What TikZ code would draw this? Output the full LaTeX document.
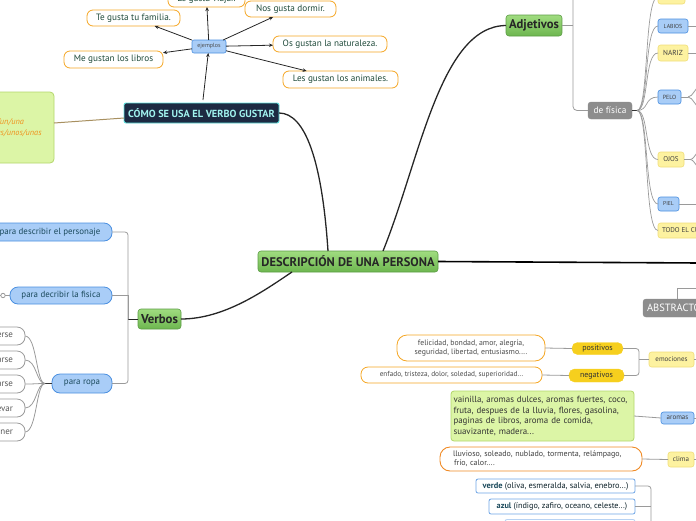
\documentclass[tikz,border=0pt]{standalone}
\usepackage{fontspec}
\setmainfont{PT Sans}
\usetikzlibrary{arrows.meta,calc}
\definecolor{cOr}{HTML}{F5A623}
\definecolor{cOr2}{HTML}{F08A24}
\definecolor{cTx}{HTML}{1F4A3A}
\definecolor{cBlF}{HTML}{A9CDF7}
\definecolor{cBlD}{HTML}{4A8FE0}
\definecolor{cBlT}{HTML}{1B4A5C}
\definecolor{cGrF}{HTML}{DCF5A6}
\definecolor{cGrD}{HTML}{B3D66B}
\definecolor{cGold}{HTML}{F6CF1E}
\definecolor{cLY}{HTML}{FDF2A0}
\definecolor{cLYD}{HTML}{F0DE7A}
\definecolor{cGray}{HTML}{8D8D8D}
\definecolor{cNavy}{HTML}{1D2A42}
\definecolor{cCyan}{HTML}{5FE3E0}
\definecolor{cCyanT}{HTML}{A0F2EE}
\definecolor{cLine}{HTML}{9A9A9A}
\definecolor{cTan}{HTML}{A89060}
\definecolor{cItal}{HTML}{F0921E}
\definecolor{cTitTop}{HTML}{A0DC80}
\definecolor{cTitBot}{HTML}{6DB64F}
\definecolor{cTitD}{HTML}{5C9C45}
\newcommand\fz[2]{\fontsize{#1}{#2}\selectfont}
\begin{document}
\begin{tikzpicture}[x=1pt,y=-1pt,
  every node/.style={inner sep=0pt, outer sep=0pt},
  obox/.style={draw=cOr, fill=white, line width=0.8pt, rounded corners=6pt, text=cTx, font=\fz{9.2}{10}},
  bpill/.style={draw=cBlD, fill=cBlF, line width=0.8pt, rounded corners=8pt, text=cBlT, font=\fz{8.9}{10}},
  wpill/.style={draw=cLine, fill=white, line width=0.8pt, rounded corners=8pt, text=black!65, font=\fz{9}{10}, inner xsep=12pt, minimum height=18pt},
  title/.style={draw=cTitD, top color=cTitTop, bottom color=cTitBot, line width=0.6pt, rounded corners=3pt, text=black!85, font=\bfseries\fz{12.5}{14}},
  ybox/.style={draw=cLYD, fill=cLY, line width=0.6pt, rounded corners=2.5pt, text=black!75},
  bbox/.style={draw=cBlD, fill=cBlF, line width=0.6pt, rounded corners=2.5pt, text=black!75},
  gpill/.style={draw=cGold, fill=cGold, rounded corners=5.5pt, text=black!80, font=\fz{8}{9}},
  gline/.style={draw=cLine, line width=0.8pt},
  dline/.style={draw=black!85, line width=1.3pt},
  arr/.style={draw=black!85, line width=0.8pt, -{Stealth[length=4pt,width=3.5pt]}}
]
\useasboundingbox (0,0) rectangle (696,520);
\clip (0,0) rectangle (696,520);

% ---------- root and main branches ----------
\node[title, minimum width=180pt, minimum height=21pt] (root) at (348,261.5) {DESCRIPCIÓN DE UNA PERSONA};
\node[title, font=\bfseries\fz{12.6}{14}, minimum width=56pt, minimum height=21pt] (adj) at (534,25.5) {Adjetivos};
\node[title, font=\bfseries\fz{12.8}{14}, minimum width=43pt, minimum height=20pt] (verbos) at (159.5,319) {Verbos};
\node[draw=cCyan, fill=cNavy, line width=0.9pt, rounded corners=2pt, text=cCyanT, font=\bfseries\fz{10.3}{12}, minimum width=155pt, minimum height=20pt] (como) at (201.5,113) {CÓMO SE USA EL VERBO GUSTAR};
\node[draw=black!45, fill=cGray, rounded corners=3pt, text=white, font=\fz{10.5}{12}, minimum height=18pt, inner xsep=4pt, anchor=west] (abs) at (643,308) {ABSTRACTO};
\coordinate (rootR) at (700,263);
\coordinate (absUp) at (700,288);

\draw[dline] ($(root.north)+(35,0)$) .. controls (420,160) and (440,26) .. (adj.west);
\draw[dline] ($(root.north)+(-20,0)$) .. controls (322,160) and (305,113) .. (como.east);
\draw[dline] ($(root.south)+(-56,0)$) .. controls (265,290) and (225,319) .. (verbos.east);
\draw[black, line width=1.6pt] (root.east) -- (rootR);
\draw[gline] ($(abs.north west)+(34,0)$) |- (absUp);

% ---------- gustar ----------
\node[draw=cGrD, fill=cGrF, line width=0.8pt, rounded corners=4pt, minimum width=80pt, minimum height=71pt, text width=64pt, align=left, text=cItal, font=\itshape\fz{8.3}{11}] (art) at (14,127.5) {el/la/un/una\\los/las/unos/unas};
\draw[cTan, line width=1pt] ($(art.east)+(0,-4.5)$) -- ($(como.west)+(0,5)$);

\node[draw=cBlD, fill=cBlF, line width=0.6pt, rounded corners=2pt, text=black!70, font=\fz{6}{7}, minimum width=34pt, minimum height=13pt] (ej) at (209,46.5) {ejemplos};
\node[obox, minimum width=77pt, minimum height=16pt] (le) at (206.5,-1) {Le gusta viajar.};
\node[obox, minimum width=91pt, minimum height=16pt] (nos) at (290.5,9) {Nos gusta dormir.};
\node[obox, minimum width=93pt, minimum height=16pt] (te) at (133.5,18) {Te gusta tu familia.};
\node[obox, minimum width=114pt, minimum height=16pt] (os) at (330,44) {Os gustan la naturaleza.};
\node[obox, minimum width=99pt, minimum height=17pt] (me) at (113.5,59.5) {Me gustan los libros};
\node[obox, minimum width=115pt, minimum height=17pt] (les) at (340.5,79.5) {Les gustan los animales.};
\draw[arr, shorten <=3pt] (como) -- (ej);
\foreach \t in {le,nos,te,os,me,les} \draw[arr] (ej) -- (\t);

% ---------- verbos ----------
\node[bpill, minimum width=124pt, minimum height=18pt] (p1) at (50,232) {para describir el personaje};
\node[bpill, minimum width=102pt, minimum height=17pt] (p2) at (61,295.5) {para decribir la fisica};
\node[bpill, minimum width=60pt, minimum height=19pt] (p3) at (82,383.5) {para ropa};
\draw[dline, line width=1pt] (verbos.west) -- ++(-10,0) coordinate (vb);
\draw[gline, rounded corners=3pt] (vb) |- (p1.east);
\draw[gline] (vb) |- (p2.east);
\draw[gline, rounded corners=3pt] (vb) |- (p3.east);
\coordinate (p2L) at (-4,295.5);
\draw[gline] (p2.west) -- (p2L);
\draw[gline, fill=white] (3,295.5) circle (2.2pt);

\node[wpill, anchor=east] (r1) at (25,336) {ponerse};
\node[wpill, anchor=east] (r2) at (25,360) {quitarse};
\node[wpill, anchor=east] (r3) at (25,384) {probarse};
\node[wpill, anchor=east] (r4) at (25,408) {llevar};
\node[wpill, anchor=east] (r5) at (25,432) {tener};
\draw[black!80, line width=1.2pt] (p3.west) -- ++(-7,0) coordinate (m3);
\foreach \r in {r1,r2,r3,r4,r5}
  \draw[gline] (\r.east) .. controls +(12,0) and +(-9,0) .. (m3);

% ---------- adjetivos ----------
\node[draw=black!45, fill=cGray, rounded corners=3pt, text=white, font=\fz{9.3}{10}, minimum width=44pt, minimum height=17pt] (fis) at (610,110.5) {de física};
\coordinate (adjTop) at (573,-20);
\draw[gline] (adj.east) -- ++(11,0) coordinate (a1);
\draw[gline, rounded corners=4pt] (adjTop) -- (a1) |- (fis.west);

\node[ybox, minimum width=27pt, minimum height=14pt] (cara) at (671.5,-3) {};
\node[bbox, font=\fz{5.8}{6}, minimum width=30pt, minimum height=14pt] (labios) at (673,26) {LABIOS};
\node[ybox, font=\fz{7.3}{8}, minimum width=30pt, minimum height=16pt] (nariz) at (673,53) {NARIZ};
\node[bbox, font=\fz{6}{7}, minimum width=23pt, minimum height=14pt] (pelo) at (669.5,97) {PELO};
\node[ybox, font=\fz{7}{8}, minimum width=26pt, minimum height=15pt] (ojos) at (671,159.5) {OJOS};
\node[bbox, font=\fz{5.6}{6}, minimum width=21pt, minimum height=14pt] (piel) at (668.5,204) {PIEL};
\node[ybox, font=\fz{7}{8}, minimum height=15pt, inner xsep=4pt, anchor=west] (todo) at (658,230.5) {TODO EL CUERPO};
\draw[black!80, line width=1.2pt] (fis.east) -- ++(5,0) coordinate (f0);
\foreach \c in {cara,labios,nariz,pelo,ojos,piel,todo}
  \draw[gline, line width=0.7pt] (f0) .. controls +(12,0) and +(-14,0) .. (\c.west);
\coordinate (labR) at (700,26);
\coordinate (narR) at (700,53);
\coordinate (pielR) at (700,204);
\coordinate (peloU) at (700,86);
\coordinate (peloD) at (700,108);
\coordinate (ojosU) at (702,148);
\coordinate (ojosD) at (702,171);
\draw[gline] (labios.east) -- (labR);
\draw[gline] (nariz.east) -- (narR);
\draw[gline] (piel.east) -- (pielR);
\draw[gline] (pelo.east) -- ++(7,0) coordinate (pe);
\draw[gline] (pe) .. controls +(5,0) and +(-4,0) .. (peloU);
\draw[gline] (pe) .. controls +(5,0) and +(-4,0) .. (peloD);
\draw[gline] (ojos.east) -- ++(6,0) coordinate (oe);
\draw[gline] (oe) .. controls +(5,0) and +(-4,0) .. (ojosU);
\draw[gline] (oe) .. controls +(5,0) and +(-4,0) .. (ojosD);

% ---------- abstracto: emociones ----------
\node[ybox, font=\fz{7}{8}, minimum width=45pt, minimum height=15pt] (emo) at (671.5,359.5) {emociones};
\node[gpill, minimum width=51pt, minimum height=12pt] (pos) at (597.5,348.5) {positivos};
\node[gpill, minimum width=55pt, minimum height=13pt] (neg) at (596.5,375.5) {negativos};
\node[obox, rounded corners=10pt, text=black!70, font=\fz{7.8}{9.5}, align=center, minimum width=148pt, minimum height=26pt] (fel) at (471,348) {felicidad, bondad, amor, alegría,\\seguridad, libertad, entusiasmo....};
\node[obox, rounded corners=7pt, text=black!70, font=\fz{7.3}{8}, minimum width=181pt, minimum height=16pt] (enf) at (451.5,375) {enfado, tristeza, dolor, soledad, superioridad...};
\coordinate (emoR) at (700,359.5);
\draw[gline] (emo.east) -- (emoR);
\draw[gline] (emo.west) -- ++(-10,0) coordinate (e1);
\draw[gline, rounded corners=3pt] (e1) |- (pos.east);
\draw[gline, rounded corners=3pt] (e1) |- (neg.east);
\draw[gline] (fel.east) -- (pos.west);
\draw[gline] (enf.east) -- (neg.west);

% ---------- aromas, clima ----------
\node[bbox, font=\fz{7}{8}, minimum width=33pt, minimum height=12pt] (aro) at (677.5,418) {aromas};
\node[draw=cGrD, fill=cGrF, line width=0.8pt, rounded corners=3pt, minimum width=183pt, minimum height=50pt, text width=178pt, align=left, text=black!80, font=\fz{8.9}{10.4}] (vain) at (542.5,416) {vainilla, aromas dulces, aromas fuertes, coco,\\fruta, despues de la lluvia, flores, gasolina,\\paginas de libros, aroma de comida,\\suavizante, madera...};
\node[ybox, font=\fz{7}{8}, minimum width=26pt, minimum height=15pt] (clima) at (681,459.5) {clima};
\node[draw=cOr2, fill=white, line width=0.9pt, rounded corners=10pt, minimum width=202pt, minimum height=24pt, text width=176pt, align=left, text=black!75, font=\fz{8}{8.6}] (llu) at (541,459) {lluvioso, soleado, nublado, tormenta, relámpago,\\\hspace*{1pt}frío, calor....};
\coordinate (aroR) at (700,418);
\coordinate (cliR) at (700,459.5);
\draw[gline] (aro.east) -- (aroR);
\draw[gline] (clima.east) -- (cliR);
\draw[gline] (vain.east) -- (aro.west);
\draw[gline] (llu.east) -- (clima.west);

% ---------- colores ----------
\node[draw=cBlD!80, fill=white, line width=0.8pt, rounded corners=2pt, font=\fz{8.4}{9}, text=black!55!cBlT, minimum width=159pt, minimum height=14pt] (verde) at (555.5,486) {\textbf{\color{cBlT}verde} (oliva, esmeralda, salvia, enebro...)};
\node[draw=cBlD!80, fill=white, line width=0.8pt, rounded corners=2pt, font=\fz{8.2}{9}, text=black!55!cBlT, minimum width=146pt, minimum height=15pt] (azul) at (562,506.5) {\textbf{\color{cBlT}azul} (índigo, zafiro, oceano, celeste...)};
\node[draw=cBlD!40, fill=white, line width=0.8pt, rounded corners=2pt, minimum width=130pt, minimum height=15pt] (col3) at (570,527) {};
\coordinate (colBot) at (651,530);
\draw[gline, rounded corners=3pt] (verde.east) -| (colBot);
\draw[gline] (azul.east) -- (azul.east -| colBot);
\end{tikzpicture}
\end{document}
